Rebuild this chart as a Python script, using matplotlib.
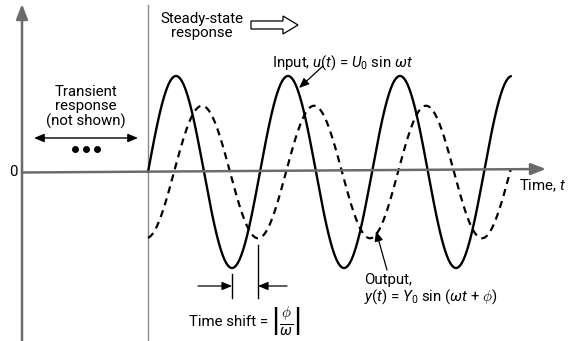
import numpy as np
import matplotlib
matplotlib.use("Agg")
import matplotlib.pyplot as plt
from matplotlib.patches import FancyArrow

plt.rcParams['font.family'] = ['Roboto', 'DejaVu Sans']
plt.rcParams['mathtext.fontset'] = 'custom'
plt.rcParams['mathtext.rm'] = 'Roboto'
plt.rcParams['mathtext.it'] = 'Roboto:italic'
plt.rcParams['mathtext.bf'] = 'Roboto:bold'

# ---- data ----
U0 = 1.0          # input amplitude
Y0 = 0.69         # output amplitude
phi = -1.46       # phase (rad), output lags
wt_end = 20.36    # end of drawn steady-state (rad)
wt = np.linspace(0, wt_end, 800)
u = U0 * np.sin(wt)
y = Y0 * np.sin(wt + phi)

# ---- layout helpers (pixel <-> data) ----
W, H = 569, 341
PX_PER_RAD = 112 / (2 * np.pi)
PX_PER_UNIT = 96
X0PX, Y0PX = 148, 172

def X(px):
    return (px - X0PX) / PX_PER_RAD

def Y(py):
    return (Y0PX - py) / PX_PER_UNIT

fig = plt.figure(figsize=(W / 100, H / 100), dpi=100)
ax = fig.add_axes([0, 0, 1, 1])
ax.set_xlim(X(0), X(W))
ax.set_ylim(Y(H), Y(0))
ax.axis('off')

gray = '#6b6b6b'
# axes
ax.annotate('', xy=(X(22), Y(4)), xytext=(X(22), Y(341)),
            arrowprops=dict(arrowstyle='-|>,head_length=0.9,head_width=0.35', color=gray, lw=1.8,
                            shrinkA=0, shrinkB=0))
ax.annotate('', xy=(X(546), Y(169)), xytext=(X(22), Y(172.5)),
            arrowprops=dict(arrowstyle='-|>,head_length=0.9,head_width=0.35', color=gray, lw=1.8,
                            shrinkA=0, shrinkB=0))
ax.plot([X(148), X(148)], [Y(5), Y(341)], color='#8a8a8a', lw=1.0)

# curves
ax.plot(wt, u, color='black', lw=1.7, solid_capstyle='round')
ax.plot(wt, y, color='black', lw=1.6, dashes=(3.2, 2.4))

# labels
fs = 10.8
ax.text(X(13), Y(172), '0', fontsize=fs, ha='center', va='center')
ax.text(X(566), Y(186), 'Time, $t$', fontsize=fs, ha='right', va='center')

ax.text(X(86), Y(107), 'Transient\nresponse\n(not shown)', fontsize=fs, ha='center',
        va='center', linespacing=1.02)
ax.annotate('', xy=(X(34), Y(138)), xytext=(X(138), Y(138)),
            arrowprops=dict(arrowstyle='<|-|>,head_length=0.6,head_width=0.25', color='black',
                            lw=1.0, shrinkA=0, shrinkB=0))
ax.plot([X(75), X(86), X(97)], [Y(149)] * 3, 'o', color='black', ms=4)

ax.text(X(202), Y(26), 'Steady-state\nresponse', fontsize=fs, ha='center', va='center',
        linespacing=0.97)
ax.add_patch(FancyArrow(X(251), Y(25), X(298) - X(251), 0, width=Y(21) - Y(29),
                        head_width=Y(16) - Y(34), head_length=X(298) - X(283),
                        length_includes_head=True, fc='white', ec='black', lw=0.9))

ax.text(X(272), Y(63), r'Input, $u(t)$ = $U_0$ sin $\omega t$', fontsize=fs,
        ha='left', va='center')
ax.annotate('', xy=(X(299), Y(88)), xytext=(X(323), Y(66)),
            arrowprops=dict(arrowstyle='-|>,head_length=0.6,head_width=0.25', color='black',
                            lw=0.9, shrinkA=0, shrinkB=0))

ax.text(X(364), Y(280), 'Output,', fontsize=fs, ha='left', va='center')
ax.text(X(364), Y(297), r'$y(t)$ = $Y_0$ sin ($\omega t$ + $\phi$)', fontsize=fs,
        ha='left', va='center')
ax.annotate('', xy=(X(376), Y(231)), xytext=(X(387), Y(270)),
            arrowprops=dict(arrowstyle='-|>,head_length=0.6,head_width=0.25', color='black',
                            lw=0.9, shrinkA=0, shrinkB=0))

# time shift markers
t_in_min = 1.5 * np.pi
t_out_min = 1.5 * np.pi - phi
ax.plot([t_in_min, t_in_min], [Y(274), Y(298)], color='black', lw=1.0)
ax.plot([t_out_min, t_out_min], [Y(245), Y(298)], color='black', lw=1.0)
ax.annotate('', xy=(t_in_min, Y(286)), xytext=(X(198), Y(286)),
            arrowprops=dict(arrowstyle='-|>,head_length=0.6,head_width=0.25', color='black',
                            lw=0.9, shrinkA=0, shrinkB=0))
ax.annotate('', xy=(t_out_min, Y(286)), xytext=(X(287), Y(286)),
            arrowprops=dict(arrowstyle='-|>,head_length=0.6,head_width=0.25', color='black',
                            lw=0.9, shrinkA=0, shrinkB=0))
ax.text(X(268), Y(322), 'Time shift =', fontsize=fs, ha='right', va='center')
ax.text(X(271), Y(321), r'$\left|\frac{\phi}{\omega}\right|$', fontsize=15.5,
        ha='left', va='center')

fig.savefig('out.png', dpi=100)
